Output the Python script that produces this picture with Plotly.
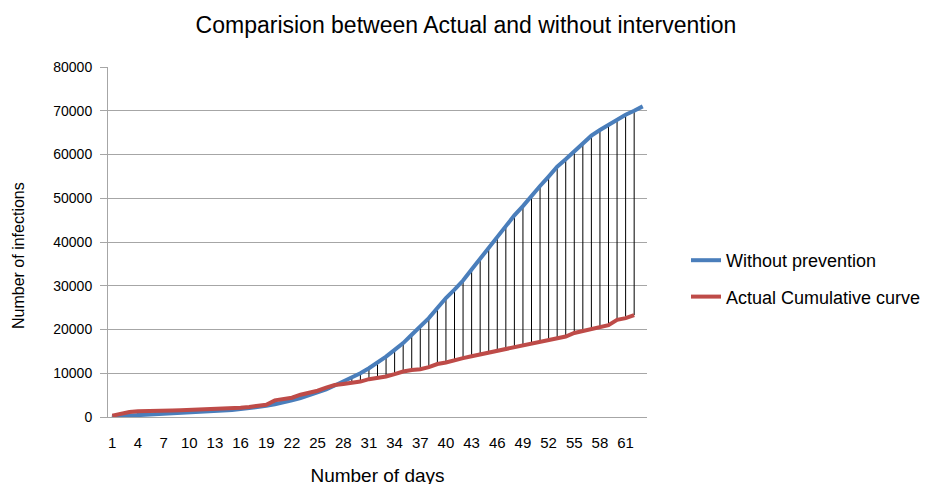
import plotly.graph_objects as go

days = list(range(1, 64))

without_prevention = [
    100, 200, 300, 400, 450, 500, 600, 700, 800, 900,
    1000, 1150, 1300, 1450, 1600, 1800, 2000, 2250, 2550, 2900,
    3300, 3800, 4350, 4950, 5600, 6300, 7200, 8100, 8850, 10000,
    11150, 12450, 13800, 15350, 16900, 18800, 20700, 22600, 24900, 27200,
    29100, 31200, 33700, 36150, 38650, 41350, 43800, 46100, 48200, 50650,
    52800, 54950, 57200, 58900, 60800, 62700, 64300, 65600, 66800, 67900,
    69100, 70000, 71000,
]

actual_cumulative = [
    300, 750, 1150, 1300, 1300, 1300, 1300, 1500, 1550, 1600,
    1750, 1800, 1850, 1950, 2000, 2100, 2300, 2450, 2800, 3800,
    4150, 4400, 5100, 5500, 6000, 6700, 7300, 7550, 7850, 8100,
    8650, 8850, 9250, 9800, 10400, 10750, 10900, 11400, 12100, 12450,
    12850, 13450, 13900, 14300, 14800, 15200, 15500, 15900, 16300, 16700,
    17000, 17400, 17900, 18400, 19200, 19700, 20200, 20700, 21000, 22200,
    22600, 23300,
]

tick_days = list(range(1, 62, 3))
y_ticks = list(range(0, 80001, 10000))

FONT = "Liberation Sans, Arial, sans-serif"
OFF = 8  # page body margin
W, H = 933, 484
# target plot-area edges in page pixels
PL, PR, PT, PB = 108, 647, 67, 417

# drop lines between the two series
dx, dy = [], []
for d, a, w in zip(days, actual_cumulative, without_prevention):
    dx += [d, d, None]
    dy += [a, w, None]

fig = go.Figure()
fig.add_trace(go.Scatter(x=dx, y=dy, mode="lines",
                         line=dict(color="black", width=1),
                         showlegend=False, hoverinfo="skip"))
fig.add_trace(go.Scatter(x=days, y=without_prevention, mode="lines",
                         name="Without prevention", legendgroup="a",
                         line=dict(color="#4a7ebb", width=4)))
fig.add_trace(go.Scatter(x=days[:len(actual_cumulative)], y=actual_cumulative,
                         mode="lines", name="Actual Cumulative curve", legendgroup="b",
                         line=dict(color="#be4b48", width=4)))

plot_w = PR - PL
plot_h = PB - PT

fig.update_layout(
    width=W, height=H,
    margin=dict(l=PL - OFF, r=W - (PR - OFF), t=PT - OFF, b=H - (PB - OFF),
                autoexpand=False),
    paper_bgcolor="white", plot_bgcolor="white",
    font=dict(family=FONT, color="#000000"),
    title=dict(text="Comparision between Actual and without intervention",
               x=(466 - OFF) / W, xanchor="center", xref="container",
               y=1 - (25 - OFF) / H, yanchor="middle", yref="container",
               font=dict(size=23, family=FONT, color="black")),
    legend=dict(x=(686 - OFF) / W, xanchor="left", xref="container",
                y=1 - (242 - OFF) / H, yanchor="top", yref="container",
                font=dict(size=18, family=FONT),
                tracegroupgap=10,
                bgcolor="rgba(0,0,0,0)"),
    showlegend=True,
    annotations=[
        dict(text="Number of infections", textangle=-90,
             x=(18 - PL) / plot_w, xref="paper", xanchor="center",
             y=(PB - 256) / plot_h, yref="paper", yanchor="middle",
             showarrow=False, font=dict(size=16, family=FONT)),
    ],
)

fig.update_xaxes(
    range=[0.5, 63.5], tickmode="array", tickvals=tick_days,
    ticktext=[str(t) for t in tick_days],
    showgrid=False, showline=True, linecolor="#a6a6a6", linewidth=1,
    ticks="", tickfont=dict(size=15, family=FONT), ticklabelstandoff=12,
    title=dict(text="Number of days", font=dict(size=19, family=FONT), standoff=18),
    zeroline=False, automargin=False,
)
fig.update_yaxes(
    range=[0, 80000], tickmode="array", tickvals=y_ticks,
    ticktext=[str(t) for t in y_ticks],
    showgrid=True, gridcolor="#a6a6a6", gridwidth=1,
    showline=True, linecolor="#a6a6a6", linewidth=1,
    ticks="outside", ticklen=7, tickcolor="#a6a6a6",
    tickfont=dict(size=14, family=FONT), ticklabelstandoff=5,
    zeroline=False, automargin=False,
)

fig.write_html("out.html")
